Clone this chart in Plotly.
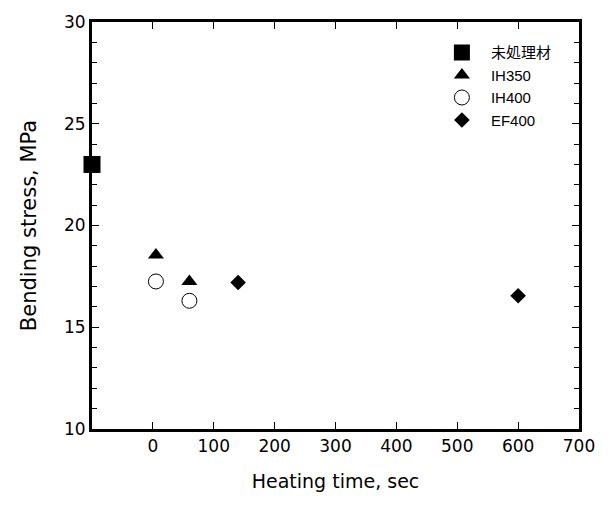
import plotly.graph_objects as go

# Data
untreated_x = [-100]
untreated_y = [23.0]
ih350_x = [5, 60]
ih350_y = [18.55, 17.25]
ih400_x = [5, 60]
ih400_y = [17.25, 16.3]
ef400_x = [140, 600]
ef400_y = [17.2, 16.55]
x_ticks = [0, 100, 200, 300, 400, 500, 600, 700]
y_ticks = [10, 15, 20, 25, 30]

FONT = "DejaVu Sans, Liberation Sans, Noto Sans CJK JP, sans-serif"

fig = go.Figure()
fig.add_trace(go.Scatter(x=untreated_x, y=untreated_y, mode="markers", name="未処理材",
                         marker=dict(symbol="square", size=17, color="black"), cliponaxis=False))
fig.add_trace(go.Scatter(x=ih350_x, y=ih350_y, mode="markers", name="IH350",
                         marker=dict(symbol="triangle-up", size=14, color="black")))
fig.add_trace(go.Scatter(x=ih400_x, y=ih400_y, mode="markers", name="IH400",
                         marker=dict(symbol="circle-open", size=15, color="black", line=dict(width=1))))
fig.add_trace(go.Scatter(x=ef400_x, y=ef400_y, mode="markers", name="EF400",
                         marker=dict(symbol="diamond", size=12, color="black")))

fig.update_layout(
    width=614, height=505,
    margin=dict(l=92, r=35, t=15, b=76),
    paper_bgcolor="white", plot_bgcolor="white",
    font=dict(family=FONT, size=17, color="black"),
    showlegend=True,
    legend=dict(x=0.70, y=0.965, xanchor="left", yanchor="top",
                bgcolor="rgba(0,0,0,0)", borderwidth=0, itemwidth=48,
                font=dict(family="Liberation Sans, Noto Sans CJK JP", size=15),
                itemsizing="trace", tracegroupgap=0),
)
fig.update_xaxes(range=[-100, 700], tickvals=x_ticks, ticks="inside", ticklen=7,
                 tickwidth=1, tickcolor="black", showline=True, linewidth=3, linecolor="black",
                 mirror="allticks", showgrid=False, zeroline=False,
                 title=dict(text="Heating time, sec", standoff=20, font=dict(size=19)),
                 tickfont=dict(size=17))
fig.update_yaxes(range=[10, 30], tickvals=y_ticks, ticks="inside", ticklen=7,
                 tickwidth=1, tickcolor="black", showline=True, linewidth=3, linecolor="black",
                 mirror="allticks", showgrid=False, zeroline=False,
                 minor=dict(dtick=1, ticks="inside", ticklen=5, tickcolor="black", showgrid=False),
                 title=dict(text="Bending stress, MPa", standoff=22, font=dict(size=21)),
                 tickfont=dict(size=17))

fig.write_html("out.html")
